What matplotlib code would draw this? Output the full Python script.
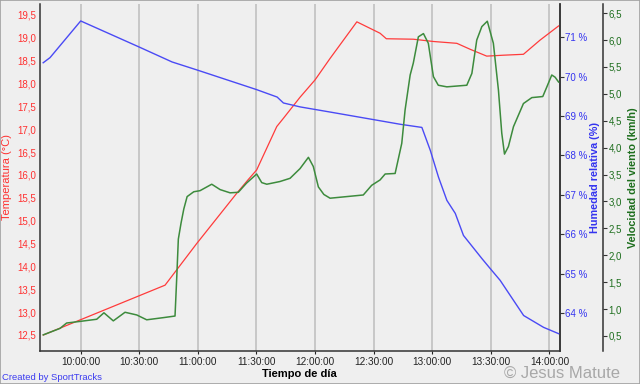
import matplotlib
matplotlib.use("Agg")
import matplotlib.pyplot as plt
import matplotlib.dates as mdates
import pandas as pd
from matplotlib.patches import Rectangle

DAY = "2010-01-01 "

# Temperature (°C)
temp_time = ["09:40:51", "10:43:12", "10:59:24", "11:19:54", "11:25:48", "11:30:06",
             "11:40:24", "11:43:48", "11:52:18", "12:00:00", "12:07:42", "12:21:24",
             "12:33:18", "12:36:30", "12:50:18", "13:00:36", "13:12:36", "13:19:24",
             "13:27:54", "13:36:24", "13:46:42", "13:55:12", "14:04:42"]
temp_val = [12.50, 13.59, 14.50, 15.60, 15.90, 16.11,
            17.06, 17.24, 17.70, 18.08, 18.55, 19.35,
            19.10, 18.98, 18.97, 18.92, 18.88, 18.75,
            18.60, 18.62, 18.64, 18.95, 19.26]

# Relative humidity (%)
hum_time = ["09:40:48", "09:44:18", "10:00:00", "10:29:54", "10:46:48", "11:00:00",
            "11:30:00", "11:40:36", "11:43:48", "11:52:24", "12:07:42", "12:43:36",
            "12:54:42", "12:59:00", "13:03:12", "13:07:30", "13:11:48", "13:16:00",
            "13:25:30", "13:29:42", "13:34:48", "13:46:48", "13:57:00", "14:04:42"]
hum_val = [70.35, 70.48, 71.41, 70.75, 70.37, 70.16,
           69.67, 69.48, 69.33, 69.23, 69.10, 68.79,
           68.71, 68.13, 67.45, 66.86, 66.53, 65.97,
           65.38, 65.13, 64.83, 63.94, 63.64, 63.48]

# Wind speed (km/h)
wind_time = ["09:40:51", "09:49:24", "09:52:48", "09:59:36", "10:08:12", "10:11:54",
             "10:16:42", "10:22:42", "10:28:42", "10:33:48", "10:42:18", "10:48:18",
             "10:49:12", "10:50:00", "10:51:24", "10:52:48", "10:54:30", "10:57:54",
             "11:01:06", "11:07:06", "11:11:24", "11:16:30", "11:20:42", "11:24:54",
             "11:30:06", "11:32:42", "11:35:18", "11:42:00", "11:47:12", "11:52:18",
             "11:56:36", "11:59:06", "12:01:42", "12:04:30", "12:07:42", "12:24:42",
             "12:29:00", "12:33:18", "12:35:54", "12:41:00", "12:44:24", "12:46:06",
             "12:48:42", "12:50:18", "12:52:54", "12:55:30", "12:58:00", "13:00:36",
             "13:03:06", "13:07:30", "13:17:42", "13:20:18", "13:22:48", "13:25:24",
             "13:28:12", "13:31:18", "13:33:54", "13:35:36", "13:37:00", "13:39:00",
             "13:41:36", "13:46:42", "13:51:00", "13:56:36", "13:58:42", "14:01:12",
             "14:02:54", "14:04:42"]
wind_val = [0.52, 0.64, 0.74, 0.77, 0.81, 0.93,
            0.78, 0.94, 0.89, 0.80, 0.84, 0.87,
            1.60, 2.30, 2.60, 2.86, 3.09, 3.18,
            3.20, 3.32, 3.22, 3.16, 3.17, 3.34,
            3.51, 3.35, 3.32, 3.37, 3.43, 3.61,
            3.82, 3.65, 3.27, 3.13, 3.06, 3.12,
            3.30, 3.40, 3.51, 3.52, 4.08, 4.70,
            5.35, 5.57, 6.06, 6.12, 5.94, 5.32,
            5.16, 5.13, 5.16, 5.38, 6.00, 6.25,
            6.35, 5.94, 5.07, 4.27, 3.88, 4.02,
            4.39, 4.82, 4.93, 4.95, 5.13, 5.35,
            5.31, 5.22]

x_ticks = ["10:00:00", "10:30:00", "11:00:00", "11:30:00", "12:00:00",
           "12:30:00", "13:00:00", "13:30:00", "14:00:00"]
temp_ticks = [12.5, 13.0, 13.5, 14.0, 14.5, 15.0, 15.5, 16.0, 16.5, 17.0, 17.5, 18.0, 18.5, 19.0, 19.5]
hum_ticks = [64, 65, 66, 67, 68, 69, 70, 71]
wind_ticks = [0.5, 1.0, 1.5, 2.0, 2.5, 3.0, 3.5, 4.0, 4.5, 5.0, 5.5, 6.0, 6.5]


def t(lst):
    return pd.to_datetime([DAY + s for s in lst])


BG = "#EFEFEF"
RED = "#FF3B3B"
BLUE = "#4A4AF5"
GREEN = "#3D8B3D"
RED_TXT = "#FF3030"
BLUE_TXT = "#3434F0"
GREEN_TXT = "#1E6E1E"

plt.rcParams["font.family"] = ["Liberation Sans", "DejaVu Sans"]

fig = plt.figure(figsize=(6.4, 3.84), dpi=100, facecolor=BG)
ax = fig.add_axes([40 / 640, 1 - 351 / 384, (559.5 - 40) / 640, (351 - 4) / 384])
ax.set_facecolor(BG)
ax2 = ax.twinx()
ax3 = ax.twinx()

ax.set_xlim(pd.Timestamp(DAY + "09:39:10"), pd.Timestamp(DAY + "14:05:10"))
ax.set_ylim(12.15, 19.74)
ax2.set_ylim(63.04, 71.84)
ax3.set_ylim(0.22, 6.67)

# grid
for s in x_ticks:
    ax.axvline(pd.Timestamp(DAY + s), color="#C4C4C4", lw=1.3, zorder=0)

ax.plot(t(temp_time), temp_val, color=RED, lw=0.9, zorder=3)
ax2.plot(t(hum_time), hum_val, color=BLUE, lw=1.0, zorder=3)
ax3.plot(t(wind_time), wind_val, color=GREEN, lw=1.1, zorder=3)

# x axis
ax.set_xticks(t(x_ticks))
ax.xaxis.set_major_formatter(mdates.DateFormatter("%H:%M:%S"))
ax.tick_params(axis="x", length=2, labelsize=7.2, pad=2, colors="#222222")
ax.set_xlabel("Tiempo de día", fontsize=8, fontweight="bold", labelpad=2)

# temperature axis
ax.set_yticks(temp_ticks)
ax.set_yticklabels([f"{v:.1f}".replace(".", ",") for v in temp_ticks])
ax.tick_params(axis="y", length=0, labelsize=7, pad=3, labelcolor=RED_TXT)
ax.set_ylabel("Temperatura (°C)", fontsize=8, color=RED_TXT)
ax.yaxis.set_label_coords(-28 / 519.5, 0.5)

# humidity axis
ax2.set_yticks(hum_ticks)
ax2.set_yticklabels([f"{v} %" for v in hum_ticks])
ax2.tick_params(axis="y", length=3, labelsize=7, pad=1, labelcolor=BLUE_TXT, color="#333333")
ax2.set_ylabel("Humedad relativa (%)", fontsize=7.8, fontweight="bold", color=BLUE_TXT)
ax2.yaxis.set_label_coords(1 + 31 / 519.5, 0.5)

# wind axis
ax3.spines["right"].set_position(("outward", 31.5))
ax3.set_yticks(wind_ticks)
ax3.set_yticklabels([f"{v:.1f}".replace(".", ",") for v in wind_ticks])
ax3.tick_params(axis="y", length=3, labelsize=7, pad=1, labelcolor=GREEN_TXT, color="#333333")
ax3.set_ylabel("Velocidad del viento (km/h)", fontsize=7.8, fontweight="bold", color=GREEN_TXT)
ax3.yaxis.set_label_coords(1 + 68 / 519.5, 0.5)

for a in (ax, ax2, ax3):
    a.spines["top"].set_visible(False)
ax2.spines["left"].set_visible(False)
ax3.spines["left"].set_visible(False)
ax3.spines["bottom"].set_visible(False)
ax2.spines["bottom"].set_visible(False)
for a in (ax, ax2, ax3):
    for sp in a.spines.values():
        sp.set_color("#333333")
        sp.set_linewidth(1.1)

fig.text(2 / 640, 1 - 378 / 384, "Created by SportTracks", fontsize=6.8, color="#3C3CF0",
         va="center", ha="left")
fig.text(620 / 640, 1 - 373 / 384, "© Jesus Matute", fontsize=12, color="#A8A8A8",
         va="center", ha="right")

fig.patches.append(Rectangle((0, 0), 1, 1, transform=fig.transFigure, fill=False,
                             edgecolor="#A0A0A0", lw=1.2))

fig.savefig("out.png", dpi=100, facecolor=BG)
